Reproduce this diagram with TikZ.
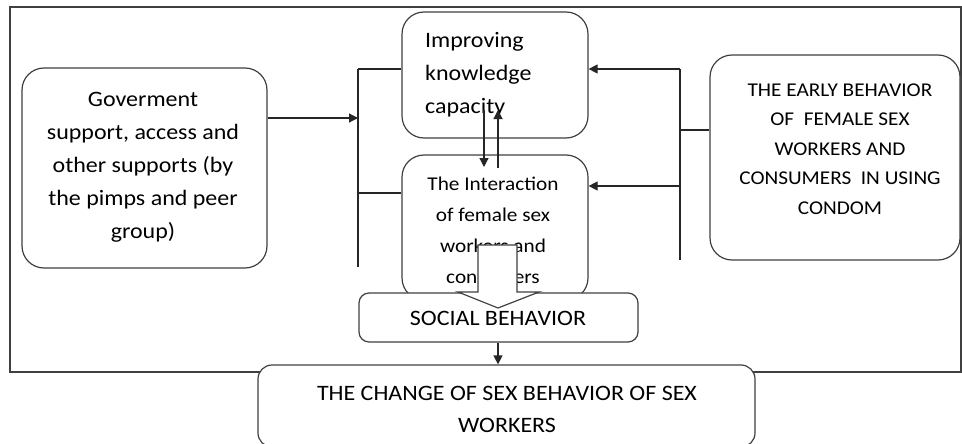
\documentclass[tikz,border=0pt]{standalone}
\usepackage{fontspec}
\setmainfont[FakeStretch=1.09]{Carlito}
\usetikzlibrary{arrows.meta}
\begin{document}
\begin{tikzpicture}[x=1pt,y=-1pt,
  box/.style={draw=black!75, line width=1.2pt, rounded corners=22pt, fill=white, inner sep=0pt},
  txt/.style={font=\fontsize{22}{33}\selectfont, align=center, inner sep=0pt, text=black},
  conn/.style={draw=black!85, line width=1.2pt},
  arr/.style={conn, -{Triangle[length=9pt,width=9pt]}}]
\useasboundingbox (0,0) rectangle (962,444);
\clip (0,0) rectangle (962,444);
% frame
\draw[conn, draw=black!75] (10,7) rectangle (961,372);
% boxes
\node[box, minimum width=245pt, minimum height=200pt] (gov) at (144.5,168) {};
\node[box, minimum width=186pt, minimum height=126pt] (imp) at (495,75) {};
\node[box, minimum width=186pt, minimum height=145pt] (inter) at (495,227.5) {};
\node[box, minimum width=250pt, minimum height=205pt] (early) at (835,157.5) {};
\node[box, rounded corners=10pt, minimum width=279pt, minimum height=49pt] (soc) at (498.5,317.5) {};
\node[box, rounded corners=14pt, minimum width=497pt, minimum height=82pt] (chg) at (506.5,406) {};
% texts
\node[txt] (govt) at (143,167) {Goverment\\support, access and\\other supports (by\\the pimps and peer\\group)};
\node[txt, align=left, anchor=west] (impt) at (425,75) {Improving\\knowledge\\capacity};
\node[txt, font=\fontsize{19.5}{29.5}\selectfont] (earlyt) at (840,149) {THE EARLY BEHAVIOR\\OF\ \ FEMALE SEX\\WORKERS AND\\CONSUMERS\ \ IN USING\\CONDOM};
\node[txt, font=\fontsize{19.5}{31}\selectfont] (intert) at (493,230) {The Interaction\\of female sex\\workers and\\consumers};
\node[txt] (soct) at (498,318) {SOCIAL BEHAVIOR};
\node[txt, font=\fontsize{22}{32}\selectfont] (chgt) at (507,409) {THE CHANGE OF SEX BEHAVIOR OF SEX\\WORKERS};
% block arrow
\draw[draw=black!75, line width=1.2pt, fill=white] (478,245) -- (517,245) -- (517,292) -- (539,292) -- (498,308) -- (458,292) -- (478,292) -- cycle;
% left bracket
\coordinate (lt) at (358,69);
\coordinate (lm) at (358,193);
\coordinate (lb) at (358,267);
\coordinate (la) at (358,118);
\draw[conn] (lt) -- (lb);
\draw[conn] (lt) -- (lt -| imp.west);
\draw[conn] (lm) -- (lm -| inter.west);
\draw[arr] (la -| gov.east) -- (la);
% right bracket
\coordinate (rt) at (680,69);
\coordinate (rm) at (680,186);
\coordinate (rb) at (680,260);
\coordinate (rs) at (680,130);
\draw[conn] (rt) -- (rb);
\draw[conn] (rs -| early.west) -- (rs);
\draw[arr] (rt) -- (rt -| imp.east);
\draw[arr] (rm) -- (rm -| inter.east);
% vertical arrows between imp and inter
\coordinate (d1) at (484,110);
\coordinate (d2) at (484,167);
\coordinate (u1) at (498,168);
\coordinate (u2) at (498,110);
\draw[arr] (d1) -- (d2);
\draw[arr] (u1) -- (u2);
% social to change
\draw[arr] (soc.south -| 498,0) -- (chg.north -| 498,0);
\end{tikzpicture}
\end{document}
